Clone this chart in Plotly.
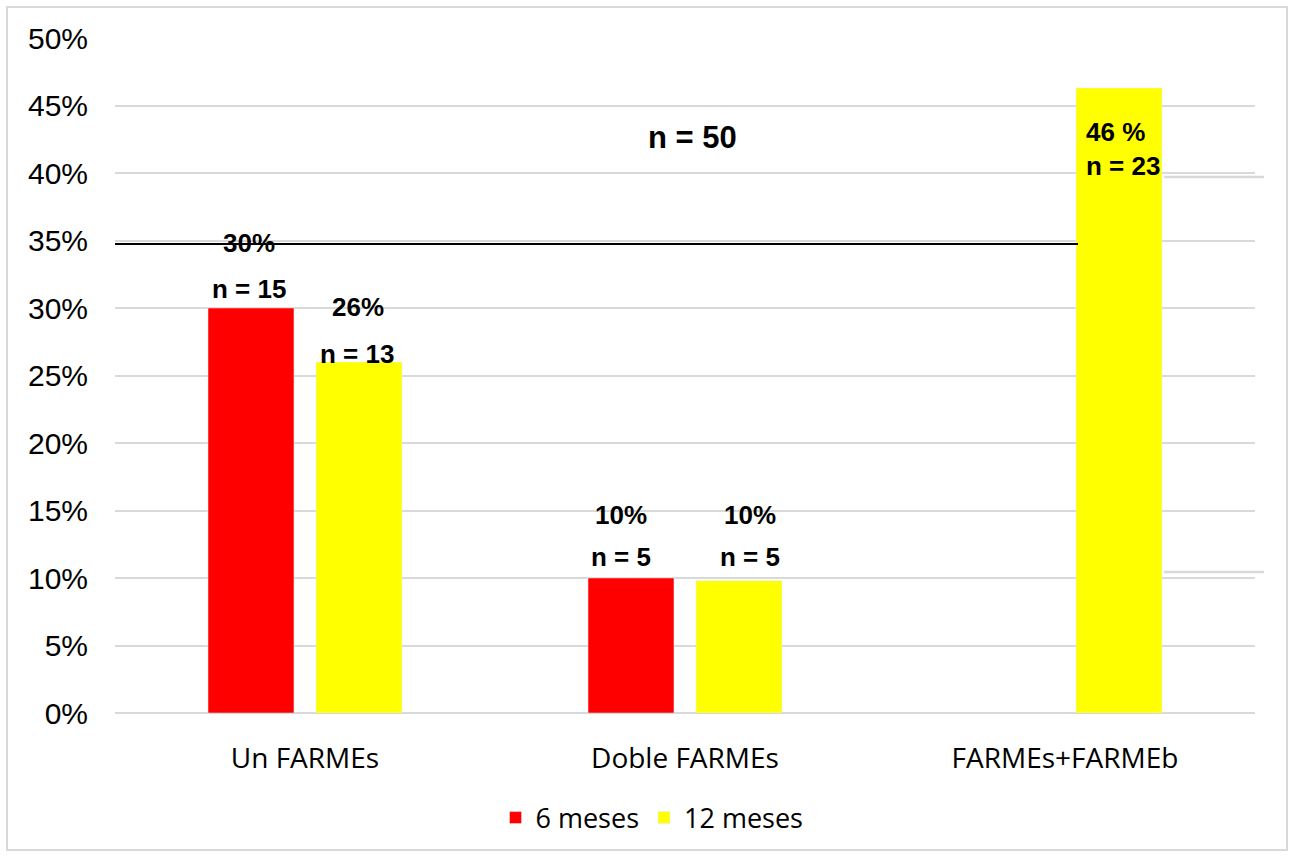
import plotly.graph_objects as go

categories = ["Un FARMEs", "Doble FARMEs", "FARMEs+FARMEb"]
series_names = ["6 meses", "12 meses"]
vals_6 = [0.30, 0.10, None]
vals_12 = [0.26, 0.098, 0.463]
colors = ["#FF0000", "#FFFF00"]
y_ticks = [0, 0.05, 0.10, 0.15, 0.20, 0.25, 0.30, 0.35, 0.40, 0.45, 0.50]
y_tick_labels = ["0%", "5%", "10%", "15%", "20%", "25%", "30%", "35%", "40%", "45%", "50%"]
total_label = "n = 50"
reference_line = 0.3475

W, H = 1293, 856
L, R, T, B = 115, 38, 38, 143
pw, ph = W - L - R, H - T - B

def px(x):
    return (x - L) / pw

def py(y):
    return (H - B - y) / ph * 0.5

fig = go.Figure()
fig.add_trace(go.Bar(x=categories, y=vals_6, name=series_names[0], marker_color=colors[0]))
fig.add_trace(go.Bar(x=categories, y=vals_12, name=series_names[1], marker_color=colors[1]))

bold = dict(family="Liberation Sans", size=26, color="black")
labels = [
    ("<b>30%</b>", 249, 243), ("<b>n = 15</b>", 249, 289),
    ("<b>26%</b>", 358, 307), ("<b>n = 13</b>", 357, 354),
    ("<b>10%</b>", 621, 515), ("<b>n = 5</b>", 621, 557),
    ("<b>10%</b>", 750, 515), ("<b>n = 5</b>", 750, 557),
]
for txt, x, y in labels:
    fig.add_annotation(x=px(x), xref="paper", y=py(y), yref="y", text=txt,
                       showarrow=False, font=bold, xanchor="center", yanchor="middle")
fig.add_annotation(x=px(1084), xref="paper", y=py(149), yref="y",
                   text="<b>46 %</b><br><b>n = 23</b>", showarrow=False, font=bold,
                   xanchor="left", yanchor="middle", align="left")
fig.add_annotation(x=px(692), xref="paper", y=py(137), yref="y", text="<b>" + total_label + "</b>",
                   showarrow=False, font=dict(family="Liberation Sans", size=31, color="black"),
                   xanchor="center", yanchor="middle")

# outer border
fig.add_shape(type="rect", xref="paper", yref="paper",
              x0=px(7), x1=px(1287), y0=(H - B - 850) / ph, y1=(H - B - 7) / ph,
              line=dict(color="#d9d9d9", width=2), fillcolor="rgba(0,0,0,0)", layer="below")
# black reference line
fig.add_shape(type="line", xref="paper", yref="y", x0=0, x1=px(1078),
              y0=reference_line, y1=reference_line, line=dict(color="black", width=2))
# small grid artefacts
fig.add_shape(type="line", xref="paper", yref="y", x0=px(1164), x1=px(1264),
              y0=py(177), y1=py(177), line=dict(color="#d9d9d9", width=2.5))
fig.add_shape(type="line", xref="paper", yref="y", x0=px(1164), x1=px(1264),
              y0=py(572), y1=py(572), line=dict(color="#d9d9d9", width=2.5))

fig.update_layout(
    width=W, height=H,
    margin=dict(l=L, r=R, t=T, b=B),
    paper_bgcolor="white", plot_bgcolor="white",
    barmode="group", bargap=0.4316, bargroupgap=0.204,
    showlegend=True,
    legend=dict(orientation="h", x=px(652), xanchor="center", y=(H - B - 818) / ph,
                yanchor="middle", font=dict(family="Open Sans", size=27, color="black"),
                itemwidth=30, tracegroupgap=0),
    font=dict(family="Liberation Sans", color="black"),
)
fig.update_xaxes(showgrid=False, showline=False, ticks="",
                 tickfont=dict(family="Open Sans", size=28, color="black"),
                 ticklabelstandoff=26)
fig.update_yaxes(range=[0, 0.5], tickvals=y_ticks, ticktext=y_tick_labels,
                 showgrid=True, gridcolor="#d9d9d9", gridwidth=1.5,
                 zeroline=True, zerolinecolor="#d9d9d9", zerolinewidth=1.5,
                 showline=False, ticks="",
                 tickfont=dict(family="Liberation Sans", size=30, color="black"),
                 ticklabelstandoff=26)

fig.write_html("out.html")
